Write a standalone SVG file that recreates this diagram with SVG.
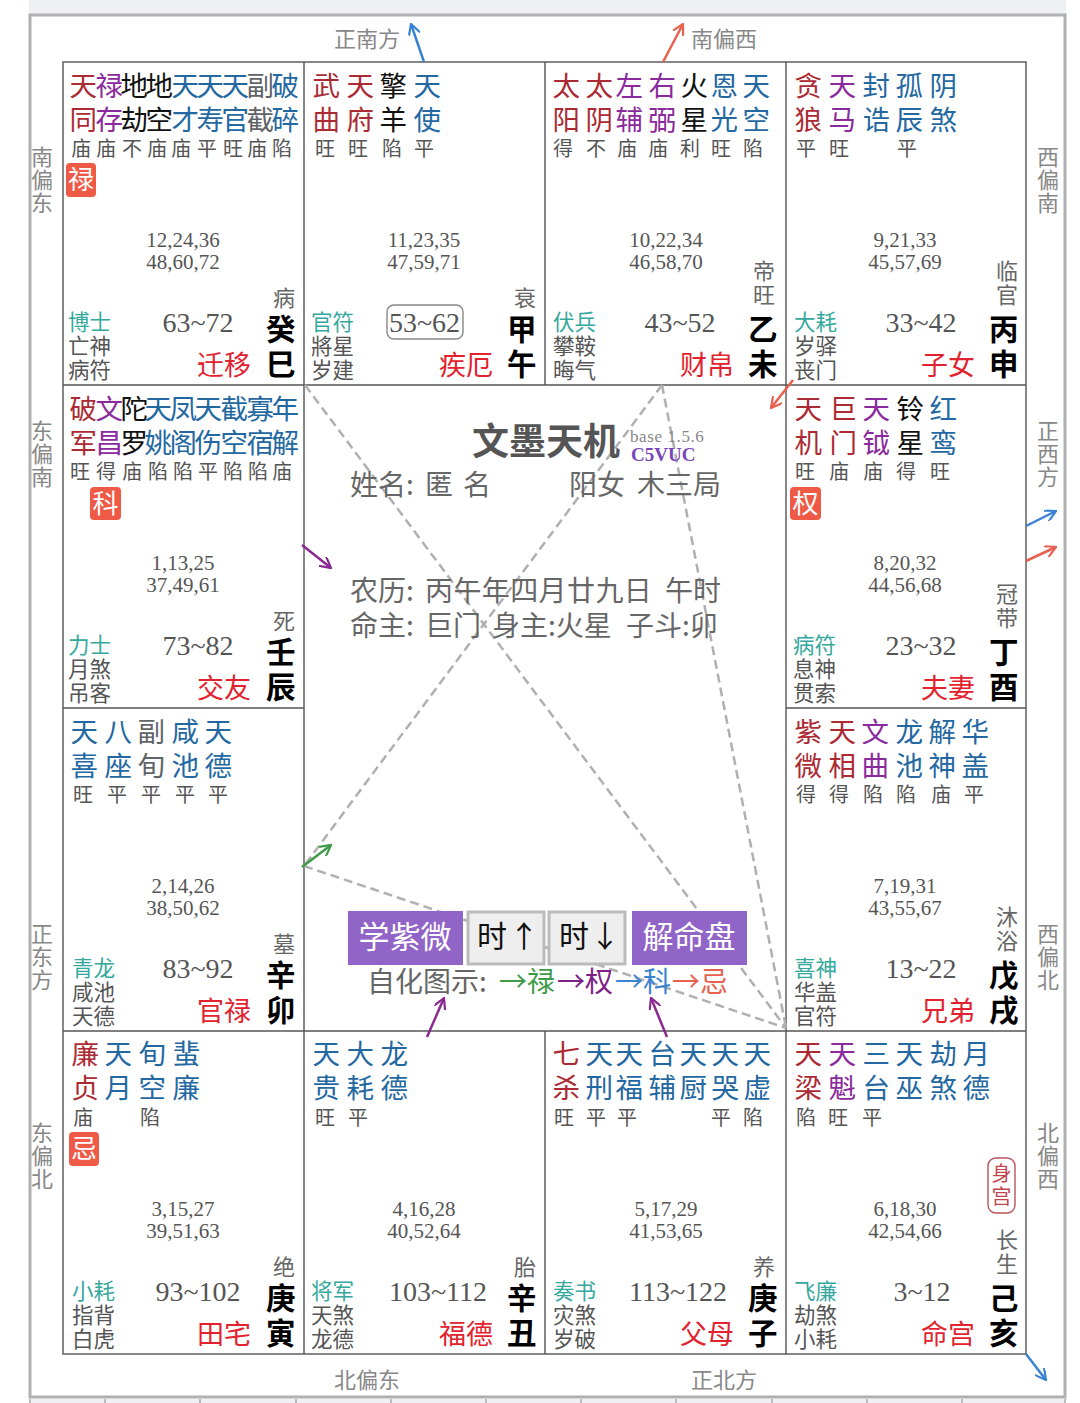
<svg xmlns="http://www.w3.org/2000/svg" width="1080" height="1403" viewBox="0 0 1080 1403">
<style>
text{font-family:"Noto Sans CJK SC","Noto Sans",sans-serif;fill:#555}
.st{font-size:27.5px;transform:translate(-.6px,-.5px)}.r{fill:#ac2a33}.p{fill:#8a2a9c}.k{fill:#111}.b{fill:#2468a2}.g{fill:#5f6468}
.br{font-size:20px;fill:#555}
.age{font-family:"Liberation Serif",serif;font-size:21px;fill:#555;text-anchor:middle;transform:translateY(-1px)}
.dec{font-family:"Liberation Serif",serif;font-size:28px;fill:#555;text-anchor:middle}
.t{font-size:21.500px;fill:#34a89c}.m{font-size:21.500px;fill:#555}
.pal{font-size:27px;fill:#e2222e}.stem{font-size:29.500px;font-weight:700;fill:#000}
.cs{font-size:22px;fill:#666}.dir{font-size:22px;fill:#888}
.bd{fill:#ee5a46}.bt{font-size:26px;fill:#fff;text-anchor:middle}
.cell{fill:#fff;stroke:#555;stroke-width:1.4}
.dash{stroke:#b0b0b0;stroke-width:2.5;stroke-dasharray:9 5;fill:none}
.ar{fill:none;stroke-width:2.5}
.info{font-size:28px;fill:#666}
.btn{font-size:31px;text-anchor:middle}
.bs{font-size:30px;fill:#111}
</style>
<defs>
<marker id="mb" viewBox="0 0 12 12" refX="11" refY="6" markerWidth="12" markerHeight="12" markerUnits="userSpaceOnUse" orient="auto"><path d="M0 0L11 6L0 12" fill="none" stroke="#3a82d2" stroke-width="2.2"/></marker>
<marker id="mr" viewBox="0 0 12 12" refX="11" refY="6" markerWidth="12" markerHeight="12" markerUnits="userSpaceOnUse" orient="auto"><path d="M0 0L11 6L0 12" fill="none" stroke="#e8604f" stroke-width="2.2"/></marker>
<marker id="mp" viewBox="0 0 12 12" refX="11" refY="6" markerWidth="12" markerHeight="12" markerUnits="userSpaceOnUse" orient="auto"><path d="M0 0L11 6L0 12" fill="none" stroke="#8a2a90" stroke-width="2.2"/></marker>
<marker id="mg" viewBox="0 0 12 12" refX="11" refY="6" markerWidth="12" markerHeight="12" markerUnits="userSpaceOnUse" orient="auto"><path d="M0 0L11 6L0 12" fill="none" stroke="#3f9a4a" stroke-width="2.2"/></marker>
</defs>
<rect width="1080" height="1403" fill="#fff"/>
<g id="frame">
<rect x="29" y="0" width="1037" height="14" fill="#eff0f4"/>
<path d="M30 15H1065V1397H30Z" fill="none" stroke="#b0b0b2" stroke-width="3"/>
<rect x="30" y="1399" width="1035" height="4" fill="#f0f0f2"/>
<path d="M30 1399V1403M105 1399V1403M200 1399V1403M296 1399V1403M391 1399V1403M486 1399V1403M581 1399V1403M676 1399V1403M772 1399V1403M867 1399V1403M962 1399V1403M1065 1399V1403" stroke="#bbb" stroke-width="2"/>
</g>
<g id="directions">
<text class="dir" x="334" y="47">正南方</text><text class="dir" x="691" y="47">南偏西</text>
<text class="dir" x="334" y="1388">北偏东</text><text class="dir" x="691" y="1388">正北方</text>
<text class="dir" x="31 31 31" y="165 188 211">南偏东</text>
<text class="dir" x="31 31 31" y="439 462 485">东偏南</text>
<text class="dir" x="31 31 31" y="942 965 988">正东方</text>
<text class="dir" x="31 31 31" y="1141 1164 1187">东偏北</text>
<text class="dir" x="1037 1037 1037" y="165 188 211">西偏南</text>
<text class="dir" x="1037 1037 1037" y="439 462 485">正西方</text>
<text class="dir" x="1037 1037 1037" y="942 965 988">西偏北</text>
<text class="dir" x="1037 1037 1037" y="1141 1164 1187">北偏西</text>
</g>

<g id="grid">
<rect class="cell" x="63" y="62" width="963" height="1292"/>
<path d="M304 62V1354M545 62V385M786 62V1354M545 1031V1354M63 385H1026M63 708H304M786 708H1026M63 1031H1026" fill="none" stroke="#555" stroke-width="1.4"/>
</g>

<g id="connectors">
<path class="dash" d="M305 385L786 1028"/><path class="dash" d="M662 385L304 866"/><path class="dash" d="M662 385L786 1028"/><path class="dash" d="M304 866L786 1028"/>
<path class="ar" stroke="#3a82d2" d="M424 62L411 24" marker-end="url(#mb)"/>
<path class="ar" stroke="#e8604f" d="M663 62L683 24" marker-end="url(#mr)"/>
<path class="ar" stroke="#e8604f" d="M793 380L771 408" marker-end="url(#mr)"/>
<path class="ar" stroke="#8a2a90" d="M302 545L331 568" marker-end="url(#mp)"/>
<path class="ar" stroke="#3a82d2" d="M1026 526L1056 511" marker-end="url(#mb)"/>
<path class="ar" stroke="#e8604f" d="M1026 561L1056 547" marker-end="url(#mr)"/>
<path class="ar" stroke="#3f9a4a" d="M302 867L331 845" marker-end="url(#mg)"/>
<path class="ar" stroke="#8a2a90" d="M427 1037L444 998" marker-end="url(#mp)"/>
<path class="ar" stroke="#8a2a90" d="M667 1037L651 998" marker-end="url(#mp)"/>
<path class="ar" stroke="#3a82d2" d="M1026 1354L1046 1380" marker-end="url(#mb)"/>
</g>

<g id="palace-si">
<text class="st" y="96"><tspan class="r" x="70">天</tspan><tspan class="p" x="96">禄</tspan><tspan class="k" x="121 146">地地</tspan><tspan class="b" x="172 197 222">天天天</tspan><tspan class="g" x="247">副</tspan><tspan class="b" x="272">破</tspan></text>
<text class="st" y="130"><tspan class="r" x="70">同</tspan><tspan class="p" x="96">存</tspan><tspan class="k" x="121 146">劫空</tspan><tspan class="b" x="172 197 222">才寿官</tspan><tspan class="g" x="247">截</tspan><tspan class="b" x="272">碎</tspan></text>
<text class="br" y="156" x="71 96 122 147 171 197 223 247 272">庙庙不庙庙平旺庙陷</text>
<rect class="bd" x="66" y="163" width="30" height="34" rx="4"/><text class="bt" x="81" y="189">禄</text>
<text class="age" x="183" y="248">12,24,36</text><text class="age" x="183" y="270">48,60,72</text>
<text class="t" x="68" y="330">博士</text><text class="m" x="68" y="354">亡神</text><text class="m" x="68" y="378">病符</text>
<text class="dec" x="198" y="332">63~72</text><text class="pal" x="197" y="375">迁移</text>
<text class="cs" x="273" y="306">病</text><text class="stem" x="266" y="340">癸</text><text class="stem" x="266" y="375">巳</text>
</g>
<g id="palace-wu">
<text class="st" y="96"><tspan class="r" x="313 347">武天</tspan><tspan class="k" x="380">擎</tspan><tspan class="b" x="414">天</tspan></text>
<text class="st" y="130"><tspan class="r" x="313 347">曲府</tspan><tspan class="k" x="380">羊</tspan><tspan class="b" x="414">使</tspan></text>
<text class="br" y="156" x="315 348 382 414">旺旺陷平</text>
<text class="age" x="424" y="248">11,23,35</text><text class="age" x="424" y="270">47,59,71</text>
<text class="t" x="311" y="330">官符</text><text class="m" x="311" y="354">將星</text><text class="m" x="311" y="378">岁建</text>
<rect x="387" y="305" width="76" height="34" rx="7" fill="none" stroke="#888" stroke-width="1.4"/>
<text class="dec" x="424.500" y="332">53~62</text><text class="pal" x="439" y="375">疾厄</text>
<text class="cs" x="514" y="306">衰</text><text class="stem" x="507" y="340">甲</text><text class="stem" x="507" y="375">午</text>
</g>
<g id="palace-wei">
<text class="st" y="96"><tspan class="r" x="553 586">太太</tspan><tspan class="p" x="616 649">左右</tspan><tspan class="k" x="681">火</tspan><tspan class="b" x="711 743">恩天</tspan></text>
<text class="st" y="130"><tspan class="r" x="553 586">阳阴</tspan><tspan class="p" x="616 649">辅弼</tspan><tspan class="k" x="681">星</tspan><tspan class="b" x="711 743">光空</tspan></text>
<text class="br" y="156" x="553 586 617 648 680 711 743">得不庙庙利旺陷</text>
<text class="age" x="666" y="248">10,22,34</text><text class="age" x="666" y="270">46,58,70</text>
<text class="t" x="553" y="330">伏兵</text><text class="m" x="553" y="354">攀鞍</text><text class="m" x="553" y="378">晦气</text>
<text class="dec" x="680" y="332">43~52</text><text class="pal" x="680" y="375">财帛</text>
<text class="cs" x="753" y="279">帝</text><text class="cs" x="753" y="303">旺</text><text class="stem" x="748" y="340">乙</text><text class="stem" x="748" y="375">未</text>
</g>
<g id="palace-shen">
<text class="st" y="96"><tspan class="r" x="795">贪</tspan><tspan class="p" x="829">天</tspan><tspan class="b" x="863 896 930">封孤阴</tspan></text>
<text class="st" y="130"><tspan class="r" x="795">狼</tspan><tspan class="p" x="829">马</tspan><tspan class="b" x="863 896 930">诰辰煞</tspan></text>
<text class="br" y="156" x="796 829 897">平旺平</text>
<text class="age" x="905" y="248">9,21,33</text><text class="age" x="905" y="270">45,57,69</text>
<text class="t" x="794" y="330">大耗</text><text class="m" x="794" y="354">岁驿</text><text class="m" x="794" y="378">丧门</text>
<text class="dec" x="921" y="332">33~42</text><text class="pal" x="921" y="375">子女</text>
<text class="cs" x="996" y="279">临</text><text class="cs" x="996" y="303">官</text><text class="stem" x="989" y="340">丙</text><text class="stem" x="989" y="375">申</text>
</g>

<g id="palace-chen">
<text class="st" y="419"><tspan class="r" x="70">破</tspan><tspan class="p" x="96">文</tspan><tspan class="k" x="121">陀</tspan><tspan class="b" x="145 170 195 221 247 272">天凤天截寡年</tspan></text>
<text class="st" y="453"><tspan class="r" x="70">军</tspan><tspan class="p" x="96">昌</tspan><tspan class="k" x="121">罗</tspan><tspan class="b" x="145 170 195 221 247 272">姚阁伤空宿解</tspan></text>
<text class="br" y="479" x="70 96 122 148 173 198 223 248 272">旺得庙陷陷平陷陷庙</text>
<rect class="bd" x="90" y="487" width="31" height="33" rx="4"/><text class="bt" x="105.500" y="513">科</text>
<text class="age" x="183" y="571">1,13,25</text><text class="age" x="183" y="593">37,49,61</text>
<text class="t" x="68" y="653">力士</text><text class="m" x="68" y="677">月煞</text><text class="m" x="68" y="701">吊客</text>
<text class="dec" x="198" y="655">73~82</text><text class="pal" x="197" y="698">交友</text>
<text class="cs" x="273" y="629">死</text><text class="stem" x="266" y="663">壬</text><text class="stem" x="266" y="698">辰</text>
</g>
<g id="palace-you">
<text class="st" y="419"><tspan class="r" x="795 830">天巨</tspan><tspan class="p" x="863">天</tspan><tspan class="k" x="897">铃</tspan><tspan class="b" x="930">红</tspan></text>
<text class="st" y="453"><tspan class="r" x="795 830">机门</tspan><tspan class="p" x="863">钺</tspan><tspan class="k" x="897">星</tspan><tspan class="b" x="930">鸾</tspan></text>
<text class="br" y="479" x="795 829 863 896 930">旺庙庙得旺</text>
<rect class="bd" x="790" y="487" width="31" height="33" rx="4"/><text class="bt" x="805.500" y="513">权</text>
<text class="age" x="905" y="571">8,20,32</text><text class="age" x="905" y="593">44,56,68</text>
<text class="t" x="793" y="653">病符</text><text class="m" x="793" y="677">息神</text><text class="m" x="793" y="701">贯索</text>
<text class="dec" x="921" y="655">23~32</text><text class="pal" x="921" y="698">夫妻</text>
<text class="cs" x="996" y="602">冠</text><text class="cs" x="996" y="626">带</text><text class="stem" x="989" y="663">丁</text><text class="stem" x="989" y="698">酉</text>
</g>

<g id="palace-mao">
<text class="st" y="742"><tspan class="b" x="71 105">天八</tspan><tspan class="g" x="138">副</tspan><tspan class="b" x="172 205">咸天</tspan></text>
<text class="st" y="776"><tspan class="b" x="71 105">喜座</tspan><tspan class="g" x="138">旬</tspan><tspan class="b" x="172 205">池德</tspan></text>
<text class="br" y="802" x="73 107 141 175 208">旺平平平平</text>
<text class="age" x="183" y="894">2,14,26</text><text class="age" x="183" y="916">38,50,62</text>
<text class="t" x="72" y="976">青龙</text><text class="m" x="72" y="1000">咸池</text><text class="m" x="72" y="1024">天德</text>
<text class="dec" x="198" y="978">83~92</text><text class="pal" x="197" y="1021">官禄</text>
<text class="cs" x="273" y="952">墓</text><text class="stem" x="266" y="986">辛</text><text class="stem" x="266" y="1021">卯</text>
</g>
<g id="palace-xu">
<text class="st" y="742"><tspan class="r" x="795 829">紫天</tspan><tspan class="p" x="862">文</tspan><tspan class="b" x="896 929 962">龙解华</tspan></text>
<text class="st" y="776"><tspan class="r" x="795 829">微相</tspan><tspan class="p" x="862">曲</tspan><tspan class="b" x="896 929 962">池神盖</tspan></text>
<text class="br" y="802" x="796 829 863 896 931 964">得得陷陷庙平</text>
<text class="age" x="905" y="894">7,19,31</text><text class="age" x="905" y="916">43,55,67</text>
<text class="t" x="794" y="976">喜神</text><text class="m" x="794" y="1000">华盖</text><text class="m" x="794" y="1024">官符</text>
<text class="dec" x="921" y="978">13~22</text><text class="pal" x="921" y="1021">兄弟</text>
<text class="cs" x="996" y="925">沐</text><text class="cs" x="996" y="949">浴</text><text class="stem" x="989" y="986">戊</text><text class="stem" x="989" y="1021">戌</text>
</g>

<g id="palace-yin">
<text class="st" y="1064"><tspan class="r" x="72">廉</tspan><tspan class="b" x="105 139 173">天旬蜚</tspan></text>
<text class="st" y="1098"><tspan class="r" x="72">贞</tspan><tspan class="b" x="105 139 173">月空廉</tspan></text>
<text class="br" y="1125" x="73 140">庙陷</text>
<rect class="bd" x="69" y="1132" width="30" height="34" rx="4"/><text class="bt" x="84" y="1158">忌</text>
<text class="age" x="183" y="1217">3,15,27</text><text class="age" x="183" y="1239">39,51,63</text>
<text class="t" x="72" y="1299">小耗</text><text class="m" x="72" y="1323">指背</text><text class="m" x="72" y="1347">白虎</text>
<text class="dec" x="198" y="1301">93~102</text><text class="pal" x="197" y="1344">田宅</text>
<text class="cs" x="273" y="1275">绝</text><text class="stem" x="266" y="1309">庚</text><text class="stem" x="266" y="1344">寅</text>
</g>
<g id="palace-chou">
<text class="st" y="1064"><tspan class="b" x="313 347 381">天大龙</tspan></text>
<text class="st" y="1098"><tspan class="b" x="313 347 381">贵耗德</tspan></text>
<text class="br" y="1125" x="315 348">旺平</text>
<text class="age" x="424" y="1217">4,16,28</text><text class="age" x="424" y="1239">40,52,64</text>
<text class="t" x="311" y="1299">将军</text><text class="m" x="311" y="1323">天煞</text><text class="m" x="311" y="1347">龙德</text>
<text class="dec" x="438" y="1301">103~112</text><text class="pal" x="439" y="1344">福德</text>
<text class="cs" x="514" y="1275">胎</text><text class="stem" x="507" y="1309">辛</text><text class="stem" x="507" y="1344">丑</text>
</g>
<g id="palace-zi">
<text class="st" y="1064"><tspan class="r" x="553">七</tspan><tspan class="b" x="586 616 649 680 712 744">天天台天天天</tspan></text>
<text class="st" y="1098"><tspan class="r" x="553">杀</tspan><tspan class="b" x="586 616 649 680 712 744">刑福辅厨哭虚</tspan></text>
<text class="br" y="1125" x="554 586 617 711 743">旺平平平陷</text>
<text class="age" x="666" y="1217">5,17,29</text><text class="age" x="666" y="1239">41,53,65</text>
<text class="t" x="553" y="1299">奏书</text><text class="m" x="553" y="1323">灾煞</text><text class="m" x="553" y="1347">岁破</text>
<text class="dec" x="678" y="1301">113~122</text><text class="pal" x="680" y="1344">父母</text>
<text class="cs" x="753" y="1275">养</text><text class="stem" x="748" y="1309">庚</text><text class="stem" x="748" y="1344">子</text>
</g>
<g id="palace-hai">
<text class="st" y="1064"><tspan class="r" x="795">天</tspan><tspan class="p" x="829">天</tspan><tspan class="b" x="863 896 930 963">三天劫月</tspan></text>
<text class="st" y="1098"><tspan class="r" x="795">梁</tspan><tspan class="p" x="829">魁</tspan><tspan class="b" x="863 896 930 963">台巫煞德</tspan></text>
<text class="br" y="1125" x="796 828 862">陷旺平</text>
<rect x="988" y="1158" width="27" height="55" rx="8" fill="#fff" stroke="#b8545a" stroke-width="1.4"/>
<text x="991.500 991.500" y="1181 1204" style="font-size:20px;fill:#c2444e">身宫</text>
<text class="age" x="905" y="1217">6,18,30</text><text class="age" x="905" y="1239">42,54,66</text>
<text class="t" x="794" y="1299">飞廉</text><text class="m" x="794" y="1323">劫煞</text><text class="m" x="794" y="1347">小耗</text>
<text class="dec" x="922" y="1301">3~12</text><text class="pal" x="921" y="1344">命宫</text>
<text class="cs" x="996" y="1248">长</text><text class="cs" x="996" y="1272">生</text><text class="stem" x="989" y="1309">己</text><text class="stem" x="989" y="1344">亥</text>
</g>

<g id="center">
<text x="472" y="455" style="font-size:37px;font-weight:700;fill:#555">文墨天机</text>
<text x="630" y="442" style="font-family:'Liberation Serif',serif;font-size:17px;fill:#888;letter-spacing:.6px">base 1.5.6</text>
<text x="631" y="461" style="font-family:'Liberation Serif',serif;font-size:19px;font-weight:700;fill:#7a45b8">C5VUC</text>
<text class="info" x="350" y="495">姓名:</text><text class="info" x="425 463" y="495">匿名</text><text class="info" x="569" y="495">阳女</text><text class="info" x="637" y="495">木三局</text>
<text class="info" x="350" y="601">农历:</text><text class="info" x="425" y="601" style="letter-spacing:.4px">丙午年四月廿九日</text><text class="info" x="665" y="601">午时</text>
<text class="info" x="350" y="636">命主:</text><text class="info" x="425" y="636">巨门</text><text class="info" x="492" y="636">身主:火星</text><text class="info" x="626" y="636">子斗:卯</text>
</g>
<g id="btn-learn"><rect x="348" y="911" width="115" height="54" fill="#9164c8"/><text class="btn" x="405" y="948" style="fill:#fff">学紫微</text></g>
<g id="btn-up"><rect x="468" y="912" width="76" height="52" fill="#eee" stroke="#bbb" stroke-width="3"/><text class="bs" x="477 509" y="947">时↑</text></g>
<g id="btn-down"><rect x="549" y="912" width="76" height="52" fill="#eee" stroke="#bbb" stroke-width="3"/><text class="bs" x="559 590" y="947">时↓</text></g>
<g id="btn-solve"><rect x="632" y="911" width="115" height="54" fill="#9164c8"/><text class="btn" x="689" y="948" style="fill:#fff">解命盘</text></g>
<g id="legend">
<text class="info" x="367" y="992">自化图示:</text>
<text class="info" y="992"><tspan x="499" style="fill:#3f9a4a">→禄</tspan><tspan x="557" style="fill:#7d2085">→权</tspan><tspan x="615" style="fill:#3a82d2">→科</tspan><tspan x="672" style="fill:#e8604f">→忌</tspan></text>
</g>
</svg>
